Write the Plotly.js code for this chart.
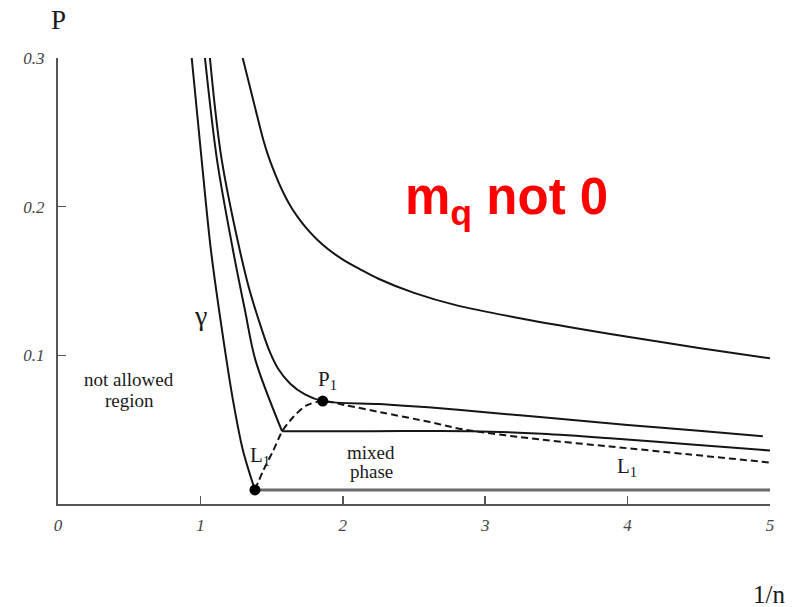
<!DOCTYPE html>
<html>
<head>
<meta charset="utf-8">
<script src="https://cdn.plot.ly/plotly-3.0.1.min.js"></script>
<style>
  html, body { margin: 0; padding: 0; background: #fff; }
  #plot { width: 796px; height: 607px; }
</style>
</head>
<body>
<div id="plot"></div>
<script>
// Phase diagram p versus 1/n (quark mass non-zero)

// Boundary gamma of the not-allowed region, ending at the point C
const gammaX = [0.939, 1.009, 1.074, 1.152, 1.229, 1.299, 1.383];
const gammaY = [0.300, 0.2313, 0.1707, 0.1168, 0.0697, 0.036, 0.0095];

// Lower isotherm: steep branch down to the mixed-phase plateau
const isoLowX = [1.032, 1.117, 1.229, 1.313, 1.387, 1.573];
const isoLowY = [0.300, 0.2313, 0.1707, 0.1303, 0.0966, 0.049];
// Lower isotherm: plateau and its continuation
const isoLowFlatX = [1.573, 2.2, 2.9, 3.4, 3.9, 4.45, 5.0];
const isoLowFlatY = [0.049, 0.049, 0.049, 0.0473, 0.0441, 0.0400, 0.036];

// Critical isotherm through P1
const isoCritX = [1.067, 1.15, 1.328, 1.433, 1.489, 1.545, 1.629, 1.734, 1.859, 2.26, 2.6, 3.0, 3.5, 4.0, 4.5, 4.95];
const isoCritY = [0.300, 0.2313, 0.150, 0.1168, 0.102, 0.0912, 0.0811, 0.0737, 0.0692, 0.0672, 0.065, 0.0617, 0.0575, 0.0532, 0.0492, 0.0455];

// Upper isotherm
const isoHighX = [1.297, 1.383, 1.442, 1.473, 1.509, 1.549, 1.593, 1.643, 1.703, 1.766, 1.817,
                  1.902, 2.001, 2.121, 2.25, 2.5, 2.8, 3.3, 4.0, 4.5, 5.0];
const isoHighY = [0.300, 0.2670, 0.2448, 0.2352, 0.2257, 0.2164, 0.2074, 0.1988, 0.1905, 0.1832, 0.1781,
                  0.171, 0.1644, 0.1579, 0.1515, 0.142, 0.1336, 0.124, 0.1125, 0.105, 0.098];

// Boundary of the mixed phase (L1 ... P1 ... L1)
const mixedX = [1.383, 1.442, 1.512, 1.559, 1.573, 1.652, 1.746, 1.859, 2.027, 2.261, 2.612, 2.844, 3.385, 3.876, 4.438, 5.0];
const mixedY = [0.0095, 0.0226, 0.036, 0.0461, 0.0488, 0.0585, 0.0663, 0.0692, 0.0663, 0.0618, 0.0551, 0.0502, 0.0434, 0.0387, 0.0333, 0.0279];

// Lower branch gamma from C along the bottom
const floorX = [1.383, 5.0];
const floorY = [0.0095, 0.0095];

// Marked points C and P1
const pointX = [1.383, 1.859];
const pointY = [0.0095, 0.0692];

// Axis ticks
const xTicks = [0, 1, 2, 3, 4, 5];
const xTickText = ['0', '1', '2', '3', '4', '5'];
const yTicks = [0.1, 0.2, 0.3];
const yTickText = ['0.1', '0.2', '0.3'];

const ink = '#151515';
const solid = { color: ink, width: 2, shape: 'spline', smoothing: 0.9 };

const traces = [
  { x: gammaX, y: gammaY, mode: 'lines', line: solid },
  { x: isoLowX, y: isoLowY, mode: 'lines', line: solid },
  { x: isoLowFlatX, y: isoLowFlatY, mode: 'lines', line: solid },
  { x: isoCritX, y: isoCritY, mode: 'lines', line: solid },
  { x: isoHighX, y: isoHighY, mode: 'lines', line: solid },
  { x: floorX, y: floorY, mode: 'lines', line: { color: '#6a6a6a', width: 3 } },
  { x: mixedX, y: mixedY, mode: 'lines',
    line: { color: ink, width: 2, dash: '7px,4px', shape: 'spline', smoothing: 0.9 } },
  { x: pointX, y: pointY, mode: 'markers', marker: { size: 11, color: '#000' } }
];

const serif = 'Liberation Serif, Times New Roman, serif';
const tickFont = { family: serif, size: 17, color: '#444', style: 'italic' };

function label(x, y, text, size) {
  return {
    x: x, y: y, xref: 'x', yref: 'y', text: text, showarrow: false,
    xanchor: 'center', yanchor: 'middle',
    font: { family: serif, size: size, color: '#1a1a1a' }
  };
}

const layout = {
  width: 796,
  height: 607,
  margin: { l: 58, r: 26, t: 58, b: 103 },
  paper_bgcolor: '#fff',
  plot_bgcolor: '#fff',
  showlegend: false,
  hovermode: false,
  xaxis: {
    range: [0, 5], showgrid: false, zeroline: false,
    showline: true, linecolor: '#555', linewidth: 2,
    ticks: 'inside', ticklen: 8, tickwidth: 1.5, tickcolor: '#555',
    tickvals: xTicks, ticktext: xTickText, tickfont: tickFont,
    ticklabelstandoff: 5
  },
  yaxis: {
    range: [0, 0.3], showgrid: false, zeroline: false,
    showline: true, linecolor: '#555', linewidth: 2,
    ticks: 'inside', ticklen: 8, tickwidth: 1.5, tickcolor: '#555',
    tickvals: yTicks, ticktext: yTickText, tickfont: tickFont,
    ticklabelstandoff: 8
  },
  annotations: [
    { x: 0.0014, y: 1.085, xref: 'paper', yref: 'paper', text: 'P', showarrow: false,
      xanchor: 'center', yanchor: 'middle',
      font: { family: serif, size: 27, color: '#1a1a1a' } },
    { x: 0.999, y: -0.204, xref: 'paper', yref: 'paper', text: '1/n', showarrow: false,
      xanchor: 'center', yanchor: 'middle',
      font: { family: serif, size: 25, color: '#1a1a1a' } },
    label(1.896, 0.0832, 'P<sub>1</sub>', 21),
    label(1.419, 0.032, 'L<sub>1</sub>', 21),
    label(3.996, 0.0246, 'L<sub>1</sub>', 21),
    label(2.198, 0.0347, 'mixed', 19),
    label(2.198, 0.0219, 'phase', 19),
    label(0.499, 0.0838, 'not allowed', 19),
    label(0.499, 0.0697, 'region', 19),
    label(1.004, 0.1269, 'γ', 28),
    label(2.507, -0.0044, 'γ', 28),
    label(1.404, -0.0118, 'C', 26),
    { x: 3.153, y: 0.2044, xref: 'x', yref: 'y', text: 'm<sub>q</sub> not 0', showarrow: false,
      xanchor: 'center', yanchor: 'middle',
      font: { family: 'Liberation Sans, Arial, sans-serif', size: 51, color: '#ff0000', weight: 'bold' } }
  ]
};

Plotly.newPlot('plot', traces, layout, { staticPlot: true, displayModeBar: false });
</script>
</body>
</html>
